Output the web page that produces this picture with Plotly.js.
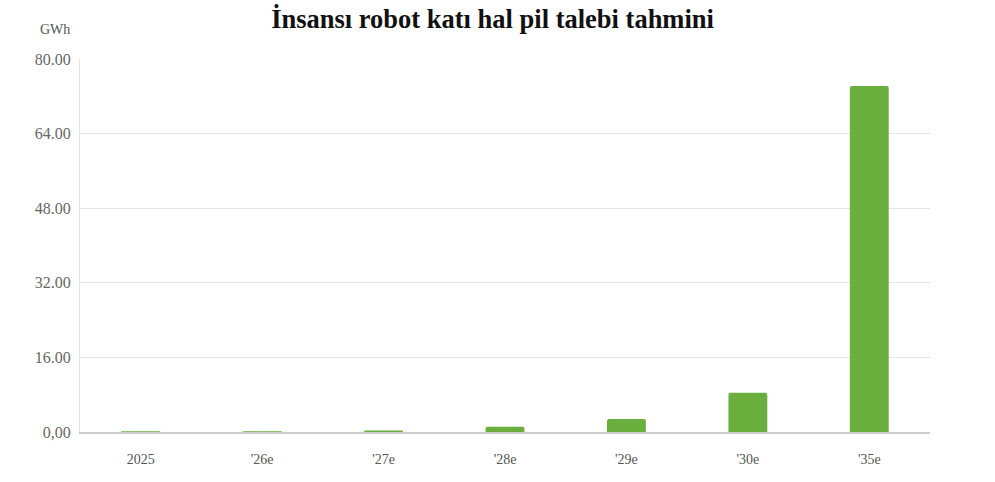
<!DOCTYPE html>
<html>
<head>
<meta charset="utf-8">
<script src="https://cdn.plot.ly/plotly-3.0.1.min.js"></script>
<style>html,body{margin:0;padding:0;background:#fff;}#chart{width:995px;height:482px;}</style>
</head>
<body>
<div id="chart"></div>
<script>
var categories = ["2025", "'26e", "'27e", "'28e", "'29e", "'30e", "'35e"];
var demand = [0.15, 0.15, 0.3, 1.1, 2.8, 8.4, 74.2];
var yTickVals = [0, 16, 32, 48, 64, 80];
var yTickText = ["0,00", "16.00", "32.00", "48.00", "64.00", "80.00"];

var trace = {
  type: 'bar',
  x: categories,
  y: demand,
  width: 0.32,
  marker: {color: '#6aae3d', cornerradius: 2},
  hoverinfo: 'x+y'
};

var layout = {
  width: 995, height: 482,
  margin: {l: 80, r: 65, t: 59, b: 50},
  paper_bgcolor: '#fff', plot_bgcolor: '#fff',
  showlegend: false,
  title: {
    text: '<b>İnsansı robot katı hal pil talebi tahmini</b>',
    font: {family: 'Liberation Serif, Times New Roman, serif', size: 26.5, color: '#111'},
    x: 0.495, xanchor: 'center', y: 0.98, yanchor: 'top'
  },
  xaxis: {
    type: 'category',
    range: [-0.5, 6.5],
    showgrid: false,
    showline: true, linecolor: '#cccccc', linewidth: 1.5,
    ticks: '',
    tickfont: {family: 'Liberation Serif, Times New Roman, serif', size: 14, color: '#555'},
    ticklabelstandoff: 14,
    fixedrange: true
  },
  yaxis: {
    range: [0, 80],
    tickvals: yTickVals, ticktext: yTickText,
    showgrid: true, gridcolor: '#e3e3e3', gridwidth: 1,
    zeroline: false,
    showline: true, linecolor: '#e3e3e3', linewidth: 1,
    ticks: '',
    tickfont: {family: 'Liberation Serif, Times New Roman, serif', size: 16, color: '#666'},
    ticklabelstandoff: 5,
    fixedrange: true
  },
  annotations: [{
    text: 'GWh', xref: 'paper', yref: 'paper', x: -0.01, y: 1.08,
    xanchor: 'right', yanchor: 'middle', showarrow: false,
    font: {family: 'Liberation Serif, Times New Roman, serif', size: 14, color: '#555'}
  }]
};

Plotly.newPlot('chart', [trace], layout, {displayModeBar: false, staticPlot: true});
</script>
</body>
</html>
